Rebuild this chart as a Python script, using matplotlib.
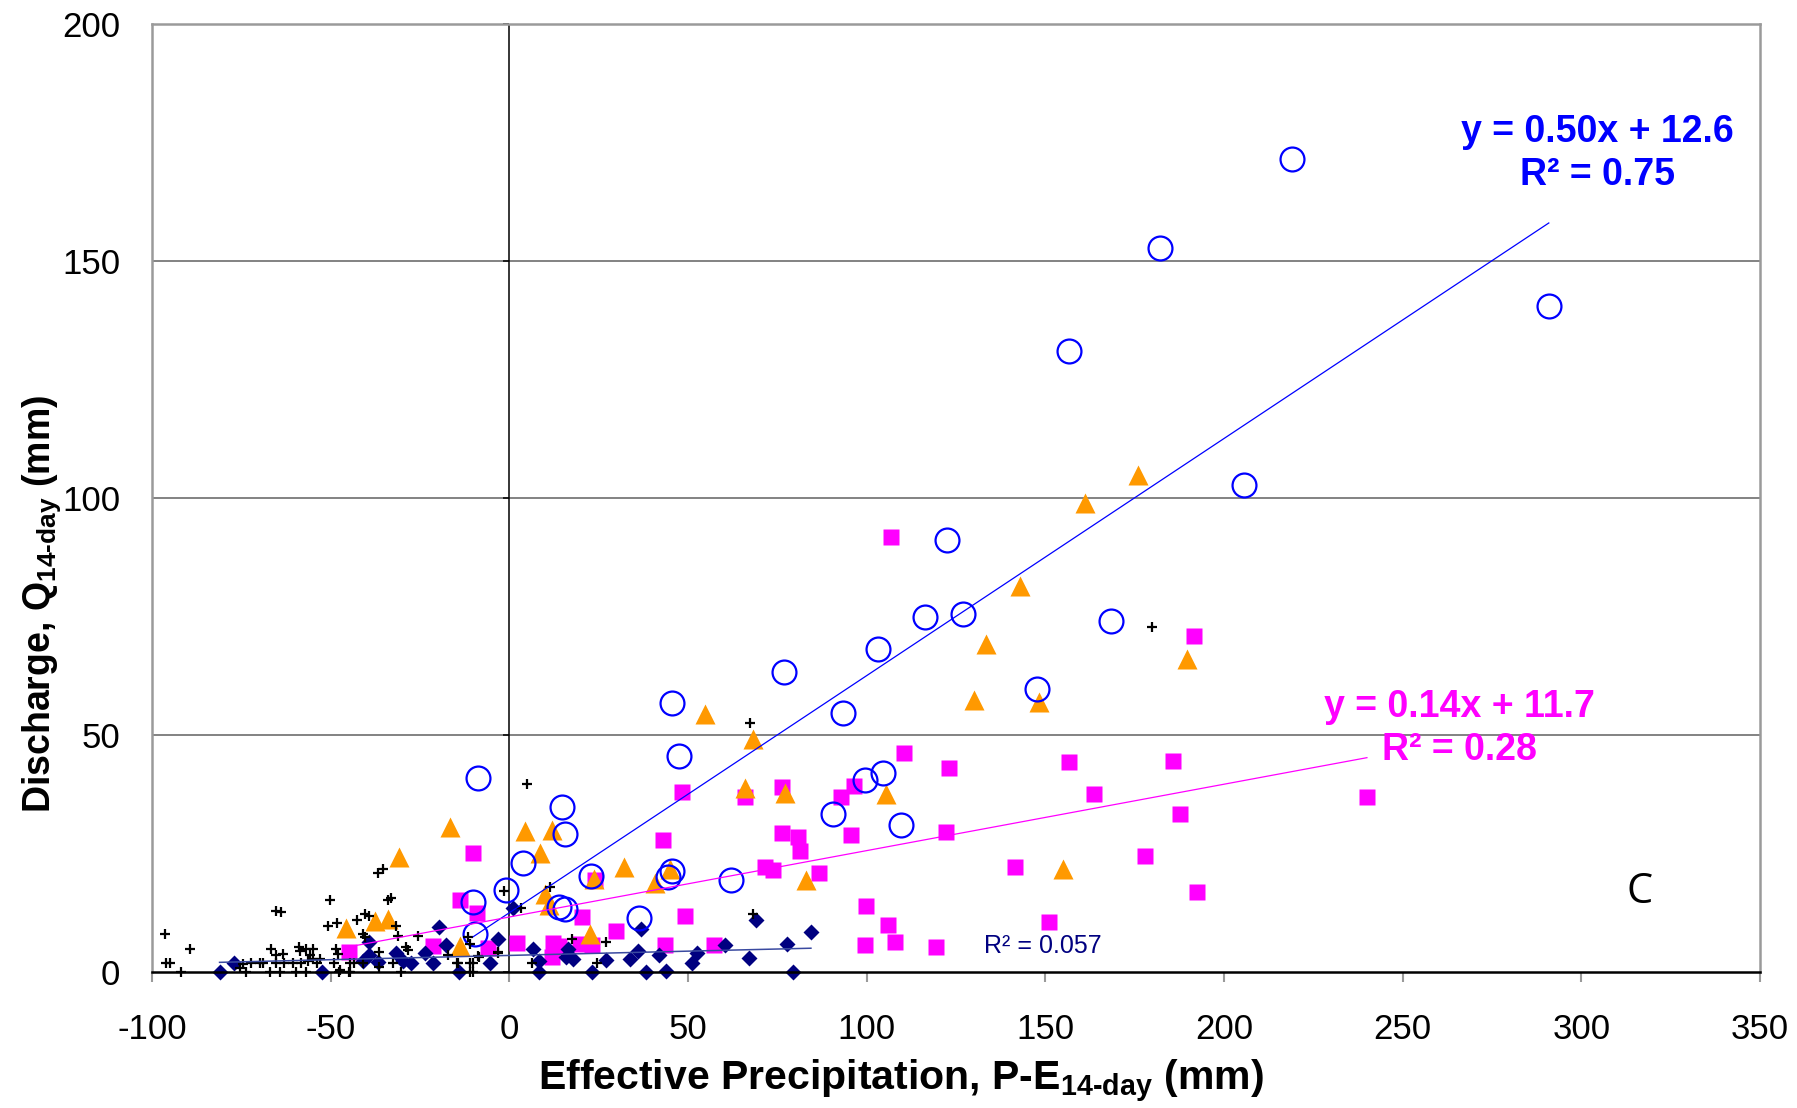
import numpy as np
import matplotlib
matplotlib.use('Agg')
import matplotlib.pyplot as plt
from matplotlib.lines import TICKLEFT

plt.rcParams['font.family'] = ['Liberation Sans', 'DejaVu Sans']
plt.rcParams['axes.unicode_minus'] = False
plt.rcParams['mathtext.fontset'] = 'custom'
plt.rcParams['mathtext.rm'] = 'Liberation Sans:bold'
plt.rcParams['mathtext.bf'] = 'Liberation Sans:bold'
plt.rcParams['mathtext.it'] = 'Liberation Sans:bold'

# blue open circles
circle_x = [219.0, 182.1, 290.9, 156.7, 205.5, 122.4, 116.3, 126.9, 168.3, 76.8,
            103.1, 147.8, 45.4, 93.5, 47.6, -8.9, 104.7, 99.6, 109.6, 90.6,
            14.6, 15.5, 3.7, 22.9, 45.4, 44.4, 62.1, -0.8, -10.1, 14.0,
            15.5, 36.4, -9.5]
circle_y = [171.5, 152.8, 140.5, 131.1, 102.8, 91.2, 75.0, 75.5, 74.2, 63.4,
            68.2, 59.7, 56.8, 54.7, 45.7, 41.1, 42.1, 40.6, 31.2, 33.4,
            34.8, 29.3, 23.0, 20.3, 21.5, 20.1, 19.6, 17.4, 14.8, 13.8,
            13.3, 11.4, 8.2]

# magenta squares
square_x = [106.8, 191.6, 110.5, 156.7, 185.6, 123.0, 163.6, 240.0, 65.9, 48.4,
            76.4, 92.9, 96.5, 187.6, 42.9, 76.2, 80.7, 81.3, 95.7, 122.2,
            -10.3, 71.5, 73.7, 86.6, 178.0, 141.6, 192.5, 23.9, -13.9, -9.0,
            20.3, 29.8, 49.2, 99.8, 105.9, 151.1, 108.0, 99.4, 119.3, 2.2,
            12.3, 13.9, 11.8, 19.7, 23.0, 43.5, 57.4, -6.1, -44.9, -21.4]
square_y = [91.8, 70.9, 46.2, 44.4, 44.6, 43.2, 37.6, 37.1, 37.1, 38.0,
            39.1, 37.0, 39.4, 33.4, 28.0, 29.4, 28.5, 25.6, 29.0, 29.7,
            25.1, 22.2, 21.6, 20.9, 24.6, 22.2, 17.0, 19.4, 15.2, 12.6,
            11.6, 8.7, 11.9, 14.1, 10.1, 10.6, 6.4, 5.8, 5.4, 6.2,
            6.2, 5.6, 3.2, 6.0, 5.8, 5.9, 5.9, 5.2, 4.3, 5.5]

# orange triangles
tri_x = [176.0, 161.0, 143.0, 133.4, 189.6, 130.0, 148.1, 54.8, 68.3, 65.9,
         77.2, 105.5, -30.9, -16.7, 4.5, 12.0, 8.7, 32.2, 40.8, 44.9,
         23.8, 10.0, 11.1, 82.9, 154.9, 22.6, -13.9, -45.6, -37.7, -34.0]
tri_y = [104.9, 99.1, 81.6, 69.3, 66.2, 57.5, 57.0, 54.6, 49.3, 38.9,
         37.8, 37.6, 24.3, 30.6, 29.9, 30.1, 25.3, 22.2, 18.8, 21.8,
         19.7, 16.6, 14.3, 19.4, 21.8, 8.1, 5.6, 9.3, 10.9, 11.3]

# navy diamonds
dia_x = [-81.1, -77.1, -52.3, -39.3, -39.3, -36.8, -40.9, -31.6, -29.7, -27.4,
         -19.6, -23.7, -21.3, -17.6, -14.2, -5.5, -3.1, 1.0, 6.6, 8.4,
         8.2, 16.4, 15.8, 17.8, 23.0, 27.0, 33.7, 36.1, 36.8, 38.2,
         41.9, 43.7, 51.2, 52.6, 60.4, 67.1, 69.0, 77.6, 79.3, 84.4]
dia_y = [0.0, 2.0, 0.0, 6.4, 3.7, 2.3, 2.5, 4.1, 2.5, 2.1,
         9.5, 4.2, 1.9, 5.8, 0.0, 2.1, 7.0, 13.5, 4.9, 2.5,
         0.0, 5.0, 3.2, 2.9, 0.0, 2.6, 2.9, 4.6, 9.2, 0.0,
         3.6, 0.4, 2.1, 4.2, 5.7, 3.1, 11.1, 6.0, 0.0, 8.6]

# black plus markers
plus_x = [-96.5, -96.0, -95.1, -89.5, -91.8, -74.5, -72.2, -69.9, -68.9, -73.6,
          -75.4, -67.1, -64.3, -65.2, -63.8, -66.6, -65.2, -63.3, -65.2, -63.0,
          -59.6, -56.8, -59.0, -58.5, -56.8, -55.0, -55.9, -55.0, -56.4, -53.9,
          -53.0, -60.5, -58.2, -50.3, -50.7, -48.2, -42.7, -48.4, -48.0, -47.5,
          -44.8, -47.6, -49.0, -43.5, -40.9, -40.5, -39.3, -40.9, -40.5, -36.7,
          -35.3, -34.0, -33.0, -36.6, -36.6, -32.5, -31.6, -31.1, -28.8, -28.4,
          -30.2, -25.5, -17.1, -14.4, -11.1, -10.1, -11.1, -10.1, -8.7, -11.5,
          -11.1, -3.2, -1.5, 3.4, -8.5, -3.1, -14.6, 4.8, 67.4, 11.3,
          6.2, 17.4, 24.4, 27.0, 68.3, 179.8, -44.7, -44.7]
plus_y = [8.1, 2.0, 2.0, 5.0, 0.0, 1.8, 2.0, 2.0, 2.0, 0.0,
          1.0, 0.0, 0.0, 13.0, 12.8, 5.0, 3.6, 3.9, 2.0, 2.0,
          0.0, 0.0, 5.4, 4.6, 5.0, 5.0, 3.6, 2.9, 2.5, 2.0,
          2.9, 2.0, 2.0, 15.2, 9.9, 10.4, 11.1, 5.0, 4.0, 0.5,
          0.0, 0.0, 2.0, 2.0, 2.0, 12.3, 12.0, 8.1, 7.4, 20.9,
          21.8, 15.2, 15.8, 4.4, 1.2, 2.1, 9.9, 7.8, 5.3, 4.8,
          0.0, 7.8, 3.6, 2.1, 2.0, 2.0, 0.0, 0.0, 3.4, 7.4,
          6.0, 4.2, 17.1, 13.6, 3.3, 4.4, 2.0, 39.8, 52.7, 18.0,
          2.1, 7.1, 2.1, 6.5, 12.3, 72.8, 1.9, 0.0]

# trend lines as labelled on the chart
blue_fit = (0.50, 12.6)
mag_fit = (0.14, 11.7)
navy_fit = (0.018, 3.6)

x_ticks = [-100, -50, 0, 50, 100, 150, 200, 250, 300, 350]
y_ticks = [0, 50, 100, 150, 200]

fig = plt.figure(figsize=(17.97, 11.08), dpi=100)
ax = fig.add_axes([0.0846, 0.1223, 0.8948, 0.856])
ax.set_xlim(-100, 350)
ax.set_ylim(0, 200)
ax.set_xticks(x_ticks)
ax.set_yticks(y_ticks)

for y in y_ticks[1:-1]:
    ax.axhline(y, color='#606060', lw=1.1, zorder=1)
ax.axvline(0, color='black', lw=1.1, zorder=1)
ax.plot(np.zeros(len(y_ticks)), y_ticks, linestyle='none', marker=TICKLEFT,
        markersize=4.5, mew=1.1, color='black', clip_on=False, zorder=2)

for side in ['left', 'top', 'right']:
    ax.spines[side].set_color('#9a9a9a')
    ax.spines[side].set_linewidth(1.8)
ax.spines['bottom'].set_color('black')
ax.spines['bottom'].set_linewidth(1.8)
ax.spines['bottom'].set_zorder(6)

ax.tick_params(axis='x', direction='out', length=7.5, width=1.5, color='#9a9a9a',
               pad=22, labelsize=25)
ax.tick_params(axis='y', length=0, pad=23, labelsize=25)

ax.plot(square_x, square_y, 's', ms=11.6, color='#ff00ff', mec='none', zorder=3)
ax.plot(dia_x, dia_y, 'D', ms=8.2, color='#000080', mec='none', zorder=3.2, clip_on=False)
ax.plot(tri_x, tri_y, '^', ms=14, color='#ff9900', mec='none', zorder=3.4)
ax.plot(circle_x, circle_y, 'o', ms=17.2, mfc='none', mec='#0000ff', mew=1.6, zorder=3.6)
ax.plot(plus_x, plus_y, '+', ms=6.8, mew=1.6, color='black', zorder=3.8, clip_on=False)

xs = np.array([min(circle_x), max(circle_x)])
ax.plot(xs, blue_fit[0] * xs + blue_fit[1], color='#0000ff', lw=0.9, zorder=4)
xs = np.array([min(square_x), max(square_x)])
ax.plot(xs, mag_fit[0] * xs + mag_fit[1], color='#ff00ff', lw=0.9, zorder=4)
xs = np.array([min(dia_x), max(dia_x)])
ax.plot(xs, navy_fit[0] * xs + navy_fit[1], color='#3a4aa0', lw=1.1, zorder=4)

ax.text(304.4, 177.3, 'y = 0.50x + 12.6', color='#0000ff', fontsize=27,
        fontweight='bold', ha='center', va='center')
ax.text(304.4, 168.1, 'R² = 0.75', color='#0000ff', fontsize=27,
        fontweight='bold', ha='center', va='center')
ax.text(265.9, 55.9, 'y = 0.14x + 11.7', color='#ff00ff', fontsize=27,
        fontweight='bold', ha='center', va='center')
ax.text(265.9, 46.9, 'R² = 0.28', color='#ff00ff', fontsize=27,
        fontweight='bold', ha='center', va='center')
ax.text(132.7, 5.6, 'R² = 0.057', color='#000080', fontsize=18,
        ha='left', va='center')
ax.text(316.2, 16.9, 'C', color='black', fontsize=30, family='Open Sans',
        ha='center', va='center')

fig.text(0.5011, 0.0156, 'Effective Precipitation, P-E$_{\\mathbf{14‐day}}$ (mm)',
         fontsize=29.5, fontweight='bold', ha='center', va='baseline')
fig.text(0.0234, 0.4549, 'Discharge, Q$_{\\mathbf{14‐day}}$ (mm)',
         fontsize=27, fontweight='bold', ha='center', va='center', rotation=90)

fig.savefig('out.png', dpi=100)
